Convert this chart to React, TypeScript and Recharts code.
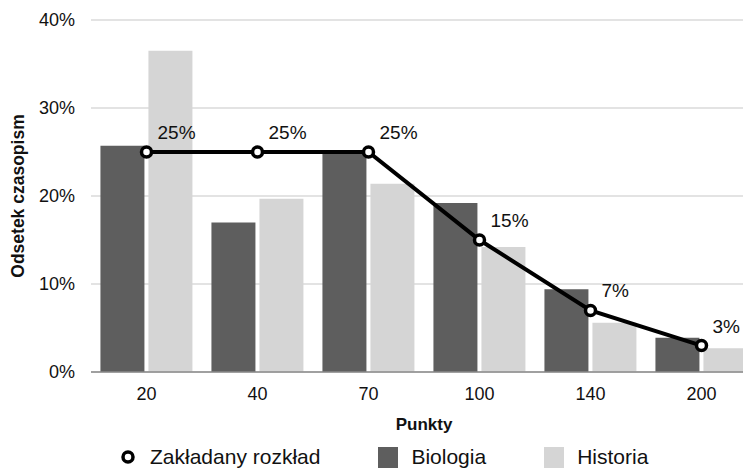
import { ComposedChart, Bar, Line, XAxis, YAxis, CartesianGrid, Legend, LabelList } from 'recharts';

const categories = ['20', '40', '70', '100', '140', '200'];
const biologia = [25.7, 17.0, 25.0, 19.2, 9.4, 3.9];
const historia = [36.5, 19.7, 21.4, 14.2, 5.6, 2.7];
const zakladany = [25, 25, 25, 15, 7, 3];
const yTicks = [0, 10, 20, 30, 40];

const data = categories.map((c, i) => ({
  name: c,
  biologia: biologia[i],
  historia: historia[i],
  zakladany: zakladany[i],
}));

const FONT = '"Liberation Sans", Arial, Helvetica, sans-serif';
const DARK = '#5e5e5e';
const LIGHT = '#d5d5d5';

// label sits up and to the right of each point
function PointLabel(props: any) {
  const { x, y, value } = props;
  return (
    <text x={x + 11} y={y - 13} textAnchor="start" fontSize={19} fontFamily={FONT} fill="#111">
      {value}%
    </text>
  );
}

function YTitle(props: any) {
  const { viewBox } = props;
  const cy = viewBox.y + viewBox.height / 2;
  return (
    <text
      x={18}
      y={cy}
      transform={`rotate(-90, 18, ${cy})`}
      textAnchor="middle"
      dominantBaseline="central"
      fontSize={17.5}
      fontWeight="bold"
      fontFamily={FONT}
      fill="#111"
    >
      Odsetek czasopism
    </text>
  );
}

function LegendBox() {
  const item = { display: 'flex', alignItems: 'center', height: 22 } as const;
  const txt = { fontSize: 21, fontFamily: FONT, color: '#111', lineHeight: '22px' };
  return (
    <div style={{ display: 'flex', alignItems: 'flex-end', height: 39, paddingLeft: 120, paddingBottom: 1, boxSizing: 'border-box' }}>
      <div style={item}>
        <svg width={16} height={16} style={{ marginRight: 14 }}>
          <circle cx={8} cy={8} r={5} fill="#fff" stroke="#000" strokeWidth={3.5} />
        </svg>
        <span style={txt}>Zakładany rozkład</span>
      </div>
      <div style={{ ...item, marginLeft: 58 }}>
        <div style={{ width: 20, height: 21, background: DARK, marginRight: 13 }} />
        <span style={txt}>Biologia</span>
      </div>
      <div style={{ ...item, marginLeft: 58 }}>
        <div style={{ width: 20, height: 21, background: LIGHT, marginRight: 13 }} />
        <span style={txt}>Historia</span>
      </div>
    </div>
  );
}

export default function App() {
  return (
    <div style={{ position: 'fixed', left: 0, top: 0, width: 743, height: 469, overflow: 'hidden', background: '#fff' }}>
      <ComposedChart
        width={757}
        height={469}
        data={data}
        margin={{ top: 20, right: 0, left: 0, bottom: 0 }}
        barCategoryGap="8.5%"
        barGap={4}
      >
        <CartesianGrid vertical={false} stroke="#dadada" strokeWidth={1.5} />
        <XAxis
          dataKey="name"
          height={58}
          axisLine={{ stroke: '#8a8a8a', strokeWidth: 1.5 }}
          tickLine={false}
          tickSize={6}
          tickMargin={9}
          tick={{ fontSize: 18, fontFamily: FONT, fill: '#111' }}
          label={{ value: 'Punkty', position: 'insideBottom', offset: 0, fontSize: 17, fontWeight: 'bold', fontFamily: FONT, fill: '#111' }}
        />
        <YAxis
          width={91}
          domain={[0, 40]}
          ticks={yTicks}
          axisLine={false}
          tickLine={false}
          tickSize={6}
          tickMargin={10}
          tickFormatter={(v) => `${v}%`}
          tick={{ fontSize: 18, fontFamily: FONT, fill: '#111' }}
          label={<YTitle />}
        />
        <Legend verticalAlign="bottom" wrapperStyle={{ left: 0, width: 757 }} content={() => <LegendBox />} />
        <Bar dataKey="biologia" name="Biologia" fill={DARK} isAnimationActive={false} />
        <Bar dataKey="historia" name="Historia" fill={LIGHT} isAnimationActive={false} />
        <Line
          dataKey="zakladany"
          name="Zakładany rozkład"
          stroke="#000"
          strokeWidth={4}
          dot={{ r: 5, fill: '#fff', stroke: '#000', strokeWidth: 3.5 }}
          activeDot={false}
          isAnimationActive={false}
        >
          <LabelList dataKey="zakladany" content={<PointLabel />} />
        </Line>
      </ComposedChart>
    </div>
  );
}
